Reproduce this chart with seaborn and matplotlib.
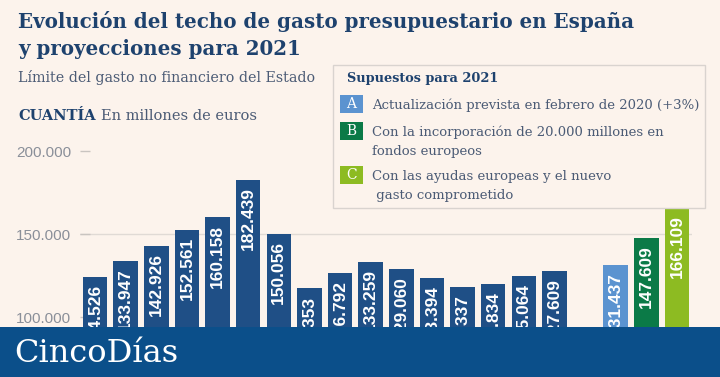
import pandas as pd
import seaborn as sns
import matplotlib.pyplot as plt
from matplotlib.patches import Rectangle

# Datos (millones de euros)
years = [str(y) for y in range(2005, 2021)]
values = [124526, 133947, 142926, 152561, 160158, 182439, 150056, 117353,
          126792, 133259, 129060, 123394, 118337, 119834, 125064, 127609]
labels = ['124.526', '133.947', '142.926', '152.561', '160.158', '182.439',
          '150.056', '117.353', '126.792', '133.259', '129.060', '123.394',
          '118.337', '119.834', '125.064', '127.609']
scen = ['A', 'B', 'C']
scen_values = [131437, 147609, 166109]
scen_labels = ['131.437', '147.609', '166.109']
scen_text = [['Actualización prevista en febrero de 2020 (+3%)'],
             ['Con la incorporación de 20.000 millones en', 'fondos europeos'],
             ['Con las ayudas europeas y el nuevo', ' gasto comprometido']]
yticks = [100000, 150000, 200000]
ytick_labels = ['100.000', '150.000', '200.000']

bg = '#FCF3EC'
navy = '#1F4F86'
scen_colors = ['#5B93D0', '#0B7A47', '#8DBB22']
title_col = '#1E426E'
sub_col = '#4B5B75'
serif = 'DejaVu Serif'

df = pd.DataFrame({'cat': years + scen, 'val': values + scen_values,
                   'lab': labels + scen_labels})
order = years + [' '] + scen
palette = {c: navy for c in years}
palette.update(dict(zip(scen, scen_colors)))

fig = plt.figure(figsize=(7.2, 3.77), dpi=100)
fig.patch.set_facecolor(bg)
# el eje termina en la banda inferior (el gráfico original está recortado)
ax = fig.add_axes([79.7 / 720, 50 / 377, 612.6 / 720, 187 / 377])
ax.set_facecolor(bg)

sns.barplot(data=df, x='cat', y='val', hue='cat', order=order, palette=palette,
            legend=False, width=0.8, saturation=1, ax=ax, zorder=2)

ax.set_ylim(94157, 206807)
ax.set_xlim(-0.5, 19.5)
ax.set_yticks(yticks)
ax.set_yticklabels(ytick_labels, color='#8A8F99', fontsize=11,
                   family='Liberation Sans')
ax.tick_params(axis='y', direction='in', length=7, color='#C9C4C0', width=1, pad=6)
ax.tick_params(axis='x', length=0, labelbottom=False)
ax.axhline(yticks[1], color='#E0DAD5', lw=1, zorder=0)
ax.set_xlabel('')
ax.set_ylabel('')
for s in ax.spines.values():
    s.set_visible(False)

for i, row in df.iterrows():
    x = order.index(row['cat'])
    ax.text(x, row['val'] - 4300, row['lab'], rotation=90, ha='center',
            va='top', color='white', fontsize=12.5, fontweight='bold',
            family='Liberation Sans', zorder=3, clip_on=True)

# Títulos
fig.text(18 / 720, 1 - 28 / 377, 'Evolución del techo de gasto presupuestario en España',
         family=serif, fontweight='bold', fontsize=14.3, color=title_col, va='baseline')
fig.text(18 / 720, 1 - 55 / 377, 'y proyecciones para 2021',
         family=serif, fontweight='bold', fontsize=14.3, color=title_col, va='baseline')
fig.text(18 / 720, 1 - 82 / 377, 'Límite del gasto no financiero del Estado',
         family=serif, fontsize=10.3, color=sub_col, va='baseline')
t = fig.text(18 / 720, 1 - 120 / 377, 'CUANTÍA', family=serif,
             fontweight='bold', fontsize=10.5, color=title_col, va='baseline')
r = fig.canvas.get_renderer()
x1 = t.get_window_extent(r).x1
fig.text((x1 + 5) / 720, 1 - 120 / 377, 'En millones de euros', family=serif,
         fontsize=10.5, color=sub_col, va='baseline')

# Leyenda
fig.patches.append(Rectangle((333 / 720, 1 - 208 / 377), 372 / 720, 143 / 377,
                             transform=fig.transFigure, facecolor=bg,
                             edgecolor='#D9D3CF', lw=1, zorder=5))
fig.text(347 / 720, 1 - 82 / 377, 'Supuestos para 2021', family=serif,
         fontweight='bold', fontsize=9.3, color=title_col, va='baseline', zorder=6)
ys = [104, 131, 175]
for s, c, lines, y in zip(scen, scen_colors, scen_text, ys):
    fig.patches.append(Rectangle((340 / 720, 1 - (y + 9) / 377), 23 / 720, 18 / 377,
                                 transform=fig.transFigure, facecolor=c,
                                 edgecolor='none', zorder=6))
    fig.text(351.5 / 720, 1 - y / 377, s, family=serif, fontsize=10,
             color='white', ha='center', va='center', zorder=7)
    for k, line in enumerate(lines):
        fig.text(372 / 720, 1 - (y + 5 + 19 * k) / 377, line, family=serif,
                 fontsize=9.5, color=sub_col, va='baseline', zorder=7)

# Banda inferior
fig.patches.append(Rectangle((0, 0), 1, 50 / 377, transform=fig.transFigure,
                             facecolor='#0B4F8A', edgecolor='none', zorder=10))
fig.text(14 / 720, 1 - 362 / 377, 'CincoDías', family=serif,
         fontsize=23, color='white', va='baseline', zorder=11)

fig.savefig('out.png', dpi=100, facecolor=bg)
